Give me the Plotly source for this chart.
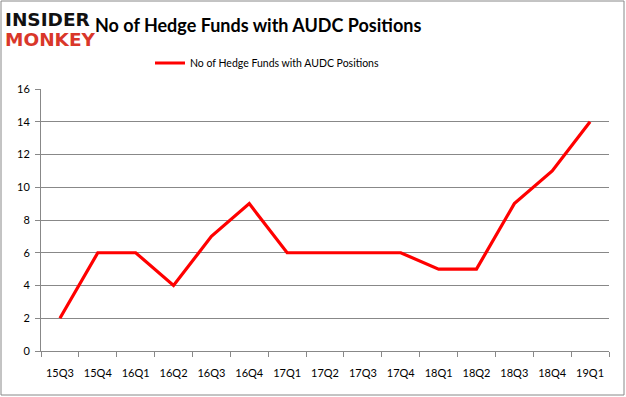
import plotly.graph_objects as go

quarters = ["15Q3", "15Q4", "16Q1", "16Q2", "16Q3", "16Q4", "17Q1", "17Q2",
            "17Q3", "17Q4", "18Q1", "18Q2", "18Q3", "18Q4", "19Q1"]
funds = [2, 6, 6, 4, 7, 9, 6, 6, 6, 6, 5, 5, 9, 11, 14]
series_name = "No of Hedge Funds with AUDC Positions"
y_ticks = [0, 2, 4, 6, 8, 10, 12, 14, 16]

W, H = 626, 397
L, R, T, B = 41, 17, 89, 46
PW, PH = W - L - R, H - T - B

def px_x(x):
    return (x - L) / PW

def px_y(y):
    return (H - B - y) / PH

fig = go.Figure()
fig.add_trace(go.Scatter(x=quarters, y=funds, mode="lines", name=series_name,
                         line=dict(color="#ff0000", width=3.2)))

fig.update_layout(
    width=W, height=H,
    margin=dict(l=L, r=R, t=T, b=B, autoexpand=False),
    paper_bgcolor="white", plot_bgcolor="white",
    font=dict(family="Lato, Open Sans, sans-serif", size=11, color="#000000"),
    showlegend=True,
    legend=dict(orientation="h", x=px_x(150), xanchor="left", y=px_y(63), yanchor="middle",
                font=dict(size=10.5), bgcolor="rgba(0,0,0,0)"),
    title=dict(text="<b>No of Hedge Funds with AUDC Positions</b>",
               x=95 / W, xanchor="left", y=1 - 26 / H, yanchor="middle",
               font=dict(size=18, family="Lato, Open Sans, sans-serif", color="#000000")),
    xaxis=dict(type="category", showline=True, linecolor="#888888", linewidth=1,
               ticks="outside", tickson="boundaries", ticklen=5, tickcolor="#888888",
               showgrid=False, tickfont=dict(size=11), range=[-0.5, 14.5],
               ticklabelstandoff=12),
    yaxis=dict(range=[0, 16], tickvals=y_ticks, showline=True, linecolor="#888888",
               linewidth=1, ticks="outside", ticklen=5, tickcolor="#888888",
               showgrid=True, gridcolor="#888888", gridwidth=1, zeroline=False,
               tickfont=dict(size=11), ticklabelstandoff=3),
    shapes=[dict(type="rect", xref="paper", yref="paper", x0=px_x(1), x1=px_x(624),
                 y0=px_y(395), y1=px_y(1), line=dict(color="#888888", width=1))],
    annotations=[
        dict(text="<b>INSIDER</b>", xref="paper", yref="paper", x=px_x(3), y=px_y(19),
             xanchor="left", yanchor="middle", showarrow=False,
             font=dict(family="DejaVu Sans", size=18.5, color="#111111")),
        dict(text="<b>MONKEY</b>", xref="paper", yref="paper", x=px_x(3), y=px_y(40),
             xanchor="left", yanchor="middle", showarrow=False,
             font=dict(family="DejaVu Sans", size=18.5, color="#d9372a")),
    ],
)

fig.write_html("out.html", post_script="document.body.style.margin='0';",
               config={"displayModeBar": False})
